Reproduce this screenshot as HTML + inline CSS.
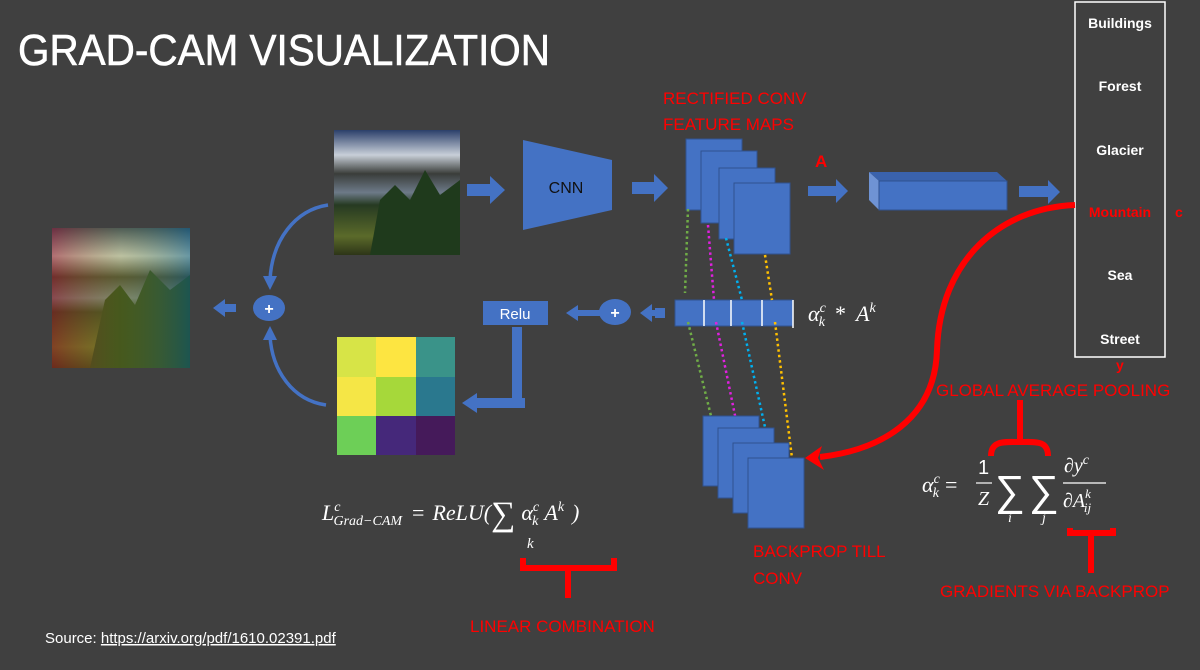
<!DOCTYPE html>
<html><head><meta charset="utf-8"><style>
html,body{margin:0;padding:0;background:#404040;}
svg{display:block}
.w{fill:#fff;font-family:"Liberation Sans",sans-serif}
.r{fill:#f00;font-family:"Liberation Sans",sans-serif;font-size:17px}
.m{fill:#fff;font-family:"Liberation Serif",serif;font-style:italic}
</style></head><body>
<svg width="1200" height="670" viewBox="0 0 1200 670" xmlns="http://www.w3.org/2000/svg">
<defs>
<linearGradient id="sky" x1="0" y1="0" x2="0" y2="1">
<stop offset="0" stop-color="#2b3f6a"/><stop offset="0.2" stop-color="#c8cfd8"/><stop offset="0.35" stop-color="#3a3d3a"/><stop offset="0.5" stop-color="#6d7a88"/><stop offset="0.6" stop-color="#263a22"/><stop offset="0.85" stop-color="#5b6a2a"/><stop offset="1" stop-color="#2d3518"/>
</linearGradient>
<linearGradient id="tint" x1="0" y1="0" x2="1" y2="0">
<stop offset="0" stop-color="#a02020" stop-opacity="0.55"/><stop offset="0.5" stop-color="#a0a020" stop-opacity="0.3"/><stop offset="1" stop-color="#1a6a7a" stop-opacity="0.55"/>
</linearGradient>
</defs>
<rect width="1200" height="670" fill="#404040"/>
<text x="18" y="65" class="w" font-size="44" textLength="532" lengthAdjust="spacingAndGlyphs" stroke="#fff" stroke-width="0.6">GRAD-CAM VISUALIZATION</text>

<!-- input photo -->
<rect x="334" y="130" width="126" height="125" fill="url(#sky)"/>
<path d="M370,255 L380,200 L395,185 L410,200 L425,170 L440,195 L460,180 L460,255Z" fill="#1f3a1c"/>
<!-- result image -->
<rect x="52" y="228" width="138" height="140" fill="url(#sky)"/>
<path d="M90,368 L105,300 L120,285 L135,305 L150,270 L170,290 L190,275 L190,368Z" fill="#1f3a1c"/>
<rect x="52" y="228" width="138" height="140" fill="url(#tint)"/>

<!-- arrows top row -->
<g fill="#4472C4">
<polygon points="467,184 490,184 490,176 505,190 490,204 490,196 467,196"/>
<polygon points="523,140 612,160 612,210 523,230"/>
<polygon points="632,182 654,182 654,174 668,188 654,202 654,194 632,194"/>
<polygon points="808,186 836,186 836,179 848,191 836,203 836,196 808,196"/>
<polygon points="1019,186 1048,186 1048,180 1060,192 1048,204 1048,197 1019,197"/>
</g>
<text x="566" y="193" font-size="16" text-anchor="middle" fill="#111" font-family="Liberation Sans,sans-serif">CNN</text>

<!-- feature maps -->
<g fill="#4472C4" stroke="#2f528f" stroke-width="1">
<rect x="686" y="139" width="56" height="71"/>
<rect x="701" y="151" width="56" height="72"/>
<rect x="719" y="168" width="56" height="71"/>
<rect x="734" y="183" width="56" height="71"/>
</g>
<text x="663" y="104" class="r">RECTIFIED CONV</text>
<text x="663" y="130" class="r">FEATURE MAPS</text>
<text x="815" y="167" fill="#f00" font-family="Liberation Sans,sans-serif" font-weight="bold" font-size="17">A</text>

<!-- 3D bar -->
<polygon points="869,172 997,172 1007,181 879,181" fill="#3a62ac"/>
<polygon points="869,172 879,181 879,210 869,200" fill="#6f93d4"/>
<rect x="879" y="181" width="128" height="29" fill="#4472C4" stroke="#2f528f"/>

<!-- classes -->
<rect x="1075" y="2" width="90" height="355" fill="none" stroke="#fff" stroke-width="1.5"/>
<g class="w" font-size="14" font-weight="bold" text-anchor="middle">
<text x="1120" y="28">Buildings</text>
<text x="1120" y="91">Forest</text>
<text x="1120" y="155">Glacier</text>
<text x="1120" y="217" fill="#f00">Mountain</text>
<text x="1120" y="280">Sea</text>
<text x="1120" y="344">Street</text>
</g>
<text x="1175" y="217" fill="#f00" font-family="Liberation Sans,sans-serif" font-weight="bold" font-size="14">c</text>
<text x="1116" y="370" fill="#f00" font-family="Liberation Sans,sans-serif" font-weight="bold" font-size="14">y</text>

<!-- red curve -->
<path d="M1075,205 C1000,208 940,260 937,350 C935,420 880,450 820,457" fill="none" stroke="#f00" stroke-width="6"/>
<polygon points="805,458 822,446 818,458 824,470" fill="#f00"/>

<!-- vector row -->
<rect x="675" y="300" width="118" height="26" fill="#4472C4" stroke="#2f528f"/>
<g stroke="#fff" stroke-width="1.5"><line x1="704" y1="300" x2="704" y2="326"/><line x1="731" y1="300" x2="731" y2="326"/><line x1="762" y1="300" x2="762" y2="326"/><line x1="793" y1="300" x2="793" y2="328"/></g>
<text x="808" y="321" class="m" font-size="22">α<tspan font-size="14" dy="-9">c</tspan><tspan font-size="14" dx="-7" dy="14">k</tspan><tspan dy="-5" dx="10" font-style="normal">*</tspan><tspan dx="10">A</tspan><tspan font-size="14" dy="-9">k</tspan></text>

<!-- dotted lines -->
<g fill="none" stroke-width="2.5" stroke-dasharray="2.5,3">
<path d="M688,209 L685,293 M688,322 L712,420" stroke="#70ad47"/>
<path d="M708,225 L714,300 M716,322 L740,440" stroke="#e020e0"/>
<path d="M726,238 L742,300 M742,322 L770,450" stroke="#00b0f0"/>
<path d="M765,255 L772,300 M775,322 L792,458" stroke="#ffc000"/>
</g>

<!-- backprop maps -->
<g fill="#4472C4" stroke="#2f528f" stroke-width="1">
<rect x="703" y="416" width="56" height="70"/>
<rect x="718" y="428" width="56" height="70"/>
<rect x="733" y="443" width="56" height="70"/>
<rect x="748" y="458" width="56" height="70"/>
</g>

<!-- bottom row arrows -->
<g fill="#4472C4">
<rect x="655" y="308" width="10" height="10"/>
<polygon points="640,313 652,304 652,310 665,310 665,316 652,316 652,322"/>
<ellipse cx="615" cy="312" rx="16" ry="13"/>
<polygon points="566,313 578,305 578,310 600,310 600,316 578,316 578,321"/>
<rect x="483" y="301" width="65" height="24"/>
<rect x="512" y="327" width="10" height="76"/>
<rect x="475" y="398" width="50" height="10"/>
<polygon points="462,403 477,393 477,413"/>
<ellipse cx="269" cy="308" rx="16" ry="13"/>
<polygon points="213,308 225,299 225,304 236,304 236,312 225,312 225,317"/>
</g>
<text x="515" y="319" class="w" font-size="15" text-anchor="middle">Relu</text>
<text x="615" y="318" class="w" font-size="16" text-anchor="middle" font-weight="bold">+</text>
<text x="269" y="314" class="w" font-size="16" text-anchor="middle" font-weight="bold">+</text>
<path d="M328,205 C295,210 272,240 270,280" fill="none" stroke="#4472C4" stroke-width="3.5"/>
<polygon points="270,290 263,276 277,276" fill="#4472C4"/>
<path d="M326,405 C292,400 272,370 270,336" fill="none" stroke="#4472C4" stroke-width="3.5"/>
<polygon points="270,326 263,340 277,340" fill="#4472C4"/>

<!-- heatmap -->
<rect x="337" y="337" width="39" height="40" fill="#d7e447"/>
<rect x="376" y="337" width="40" height="40" fill="#fde541"/>
<rect x="416" y="337" width="39" height="40" fill="#3a9389"/>
<rect x="337" y="377" width="39" height="39" fill="#f5e646"/>
<rect x="376" y="377" width="40" height="39" fill="#a6d83a"/>
<rect x="416" y="377" width="39" height="39" fill="#2a788e"/>
<rect x="337" y="416" width="39" height="39" fill="#6dcf57"/>
<rect x="376" y="416" width="40" height="39" fill="#45287a"/>
<rect x="416" y="416" width="39" height="39" fill="#451a5a"/>

<!-- left formula -->
<text x="322" y="520" class="m" font-size="22">L<tspan font-size="14" dy="-9">c</tspan><tspan font-size="14" dx="-7" dy="14">Grad−CAM</tspan><tspan dy="-5" dx="10" font-style="normal">=</tspan><tspan dx="8">ReLU(</tspan><tspan font-size="34" font-style="normal" dy="5">∑</tspan><tspan dx="6" dy="-5">α</tspan><tspan font-size="14" dy="-9">c</tspan><tspan font-size="14" dx="-7" dy="14">k</tspan><tspan dy="-5" dx="6">A</tspan><tspan font-size="14" dy="-9">k</tspan><tspan dy="9" dx="8">)</tspan></text>
<text x="527" y="548" class="m" font-size="15">k</text>
<path d="M523,558 L523,568 L614,568 L614,558 M568,568 L568,598" fill="none" stroke="#f00" stroke-width="6"/>
<text x="470" y="632" class="r" font-size="18">LINEAR COMBINATION</text>

<!-- right formula -->
<text x="922" y="492" class="m" font-size="22">α<tspan font-size="14" dy="-9">c</tspan><tspan font-size="14" dx="-7" dy="14">k</tspan><tspan font-style="normal" dx="6" dy="-5">=</tspan></text>
<text x="978" y="474" class="w" font-size="20" font-family="Liberation Serif,serif">1</text>
<line x1="976" y1="483" x2="992" y2="483" stroke="#fff" stroke-width="1.2"/>
<text x="978" y="505" class="m" font-size="20">Z</text>
<text x="995" y="505" class="w" font-size="42" font-family="Liberation Serif,serif">∑</text>
<text x="1029" y="505" class="w" font-size="42" font-family="Liberation Serif,serif">∑</text>
<text x="1008" y="522" class="m" font-size="14">i</text>
<text x="1042" y="522" class="m" font-size="14">j</text>
<text x="1064" y="472" class="m" font-size="20">∂y<tspan font-size="14" dy="-8">c</tspan></text>
<line x1="1063" y1="483" x2="1106" y2="483" stroke="#fff" stroke-width="1.2"/>
<text x="1063" y="507" class="m" font-size="20">∂A<tspan font-size="13" dy="-9">k</tspan><tspan font-size="13" dx="-7" dy="14">ij</tspan></text>
<path d="M991,456 C991,440 1005,442 1020,442 L1020,400 M1020,442 C1035,442 1048,440 1048,456" fill="none" stroke="#f00" stroke-width="6"/>
<text x="936" y="396" class="r" font-size="18">GLOBAL AVERAGE POOLING</text>
<path d="M1070,528 L1070,533 L1113,533 L1113,528 M1091,533 L1091,573" fill="none" stroke="#f00" stroke-width="6"/>
<text x="940" y="597" class="r" font-size="18">GRADIENTS VIA BACKPROP</text>
<text x="753" y="557" class="r" font-size="18">BACKPROP TILL</text>
<text x="753" y="584" class="r" font-size="18">CONV</text>

<text x="45" y="643" class="w" font-size="15">Source: <tspan text-decoration="underline">https://arxiv.org/pdf/1610.02391.pdf</tspan></text>
</svg>
</body></html>
